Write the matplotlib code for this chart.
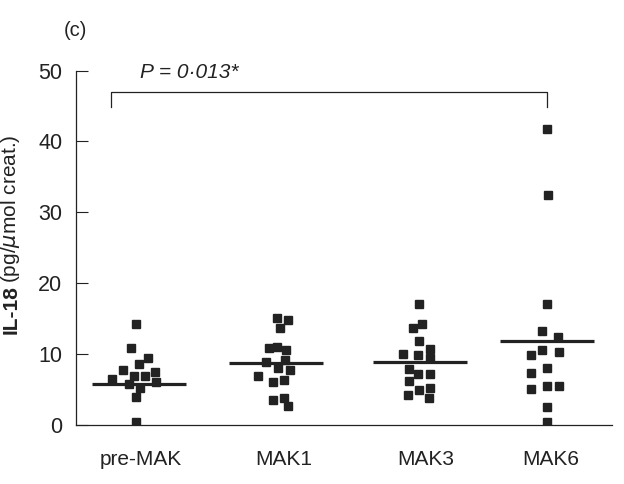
import matplotlib
matplotlib.use("Agg")
import matplotlib.pyplot as plt

plt.rcParams['font.family'] = ['Liberation Sans', 'DejaVu Sans']

# group names and read-off values (pg/umol creat.)
groups = ["pre-MAK", "MAK1", "MAK3", "MAK6"]
pre_mak = [14.15, 10.76, 9.35, 8.55, 7.70, 6.85, 6.85, 7.42, 6.38, 5.72, 6.05, 5.16, 3.84, 0.40]
mak1 = [15.04, 14.72, 13.59, 10.76, 10.95, 10.48, 8.83, 9.15, 7.94, 7.66, 6.81, 6.00, 6.24, 3.46, 3.70, 2.57]
mak3 = [16.98, 14.15, 13.59, 11.75, 9.92, 9.82, 10.62, 9.44, 7.80, 7.09, 7.09, 6.10, 4.83, 5.11, 4.12, 3.70]
mak6 = [41.69, 32.37, 16.98, 13.16, 12.40, 10.52, 10.20, 9.77, 7.94, 7.34, 5.40, 5.40, 4.97, 2.43, 0.31]
medians = [5.68, 8.73, 8.87, 11.79]
p_label = "P = 0·013*"

# horizontal scatter of the points as drawn
jit_pre = [-3, -8, 9, 0, -16, -5, 6, 16, -27, -10, 17, 1, -3, -3]
jit_mak1 = [1, 12, 4, -7, 1, 10, -10, 9, 2, 14, -18, -3, 8, -3, 8, 12]
jit_mak3 = [-1, 2, -7, -1, -17, -2, 10, 10, -11, -2, 10, -11, -1, 10, -12, 9]
jit_mak6 = [0, 1, 0, -5, 11, -5, 12, -16, 0, -16, 0, 12, -16, 0, 0]

series = [pre_mak, mak1, mak3, mak6]
jitters = [jit_pre, jit_mak1, jit_mak3, jit_mak6]
centers = [139, 276, 420, 547]
label_pos = [141, 284, 426, 551]

fig = plt.figure(figsize=(6.24, 4.84), dpi=100)
ax = fig.add_axes([0.1213, 0.1229, 0.8595, 0.7314])

ink = "#222222"
for c, vals, jit, med in zip(centers, series, jitters, medians):
    ax.plot([c + j for j in jit], vals, "s", color=ink, markersize=5.8, linestyle="none")
    ax.plot([c - 47, c + 47], [med, med], color=ink, linewidth=2.3, solid_capstyle="butt")

# significance bracket
ax.plot([111, 111, 546.7, 546.7], [44.9, 46.92, 46.92, 44.9], color=ink, linewidth=0.9)
ax.text(140, 48.94, p_label, fontsize=15, style="italic", ha="left", va="baseline", color=ink)

ax.set_xlim(75.7, 612)
ax.set_ylim(0, 50)
ax.set_yticks([0, 10, 20, 30, 40, 50])
ax.set_xticks(label_pos)
ax.set_xticklabels(groups)
ax.tick_params(axis="y", direction="in", length=8.6, width=0.8, pad=9.5, labelsize=15.5, colors=ink)
ax.tick_params(axis="x", length=0, pad=18, labelsize=15, colors=ink)
for s in ["top", "right"]:
    ax.spines[s].set_visible(False)
for s in ["left", "bottom"]:
    ax.spines[s].set_linewidth(0.9)
    ax.spines[s].set_color(ink)

# y label: bold part + normal part
fig.text(11 / 624, 1 - 334 / 484, "IL-18", rotation=90, fontsize=15, fontweight="bold",
         ha="center", va="bottom", color=ink)
fig.text(11 / 624, 1 - 283 / 484, r"(pg/$\mu$mol creat.)", rotation=90, fontsize=15,
         ha="center", va="bottom", color=ink)

fig.text(75 / 624, 1 - 30 / 484, "(c)", fontsize=14.5, ha="center", va="center", color=ink)

fig.savefig("out.png", dpi=100)
